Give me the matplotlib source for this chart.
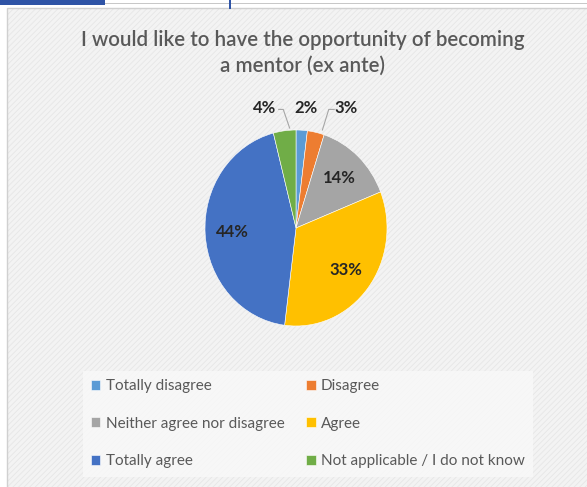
import numpy as np
import matplotlib.pyplot as plt
from matplotlib.patches import Rectangle

# datos
categorias = ['Totally disagree', 'Disagree', 'Neither agree nor disagree',
              'Agree', 'Totally agree', 'Not applicable / I do not know']
valores = [2, 3, 14, 33, 44, 4]
colores = ['#5B9BD5', '#ED7D31', '#A5A5A5', '#FFC000', '#4472C4', '#70AD47']
titulo = 'I would like to have the opportunity of becoming\na mentor (ex ante)'

fuente = 'Lato'
W, H = 587, 487
fig = plt.figure(figsize=(W / 100, H / 100), dpi=100)
fig.patch.set_facecolor('white')

# fondo rayado del grafico
plt.rcParams['hatch.linewidth'] = 0.6
fondo = Rectangle((7 / W, 0), 1, 1 - 8 / H, transform=fig.transFigure,
                  facecolor='#f3f3f3', edgecolor='#e6e6e6', hatch='//////',
                  linewidth=0, zorder=-10)
fig.patches.append(fondo)
borde = Rectangle((7 / W, -0.01), 1, 1 - 8 / H + 0.01, transform=fig.transFigure,
                  facecolor='none', edgecolor='#d0d0d0', linewidth=1, zorder=-9)
fig.patches.append(borde)
# barra superior
fig.patches.append(Rectangle((0, 1 - 5 / H), 105 / W, 5 / H, transform=fig.transFigure,
                             facecolor='#2F54A6', edgecolor='none'))
fig.patches.append(Rectangle((105 / W, 1 - 4 / H), 1, 1.5 / H, transform=fig.transFigure,
                             facecolor='#c8c8c8', edgecolor='none'))
fig.patches.append(Rectangle((229 / W, 1 - 9 / H), 1.5 / W, 9 / H, transform=fig.transFigure,
                             facecolor='#2F54A6', edgecolor='none'))

fig.text(303 / W, 1 - 53 / H, titulo, ha='center', va='center', fontsize=14.8,
         family=fuente, fontweight='semibold', color='#595959',
         linespacing=1.35)

# pastel eliptico
ax = fig.add_axes([205 / W, (H - 326) / H, 182 / W, 196 / H])
wedges, _ = ax.pie(valores, colors=colores, startangle=90, counterclock=False,
                   wedgeprops=dict(edgecolor='white', linewidth=0.4))
ax.set_aspect('auto')
ax.set_xlim(-1, 1)
ax.set_ylim(-1, 1)

# etiquetas
for w, v in zip(wedges, valores):
    ang = np.deg2rad((w.theta1 + w.theta2) / 2)
    x, y = np.cos(ang), np.sin(ang)
    if v >= 10:
        r = 0.7
        ax.text(r * x, r * y, f'{v}%', ha='center', va='center', fontsize=12,
                family=fuente, fontweight='bold', color='#262626')

pct_pequenos = [valores[5], valores[0], valores[1]]
pos_x = [-0.34, 0.11, 0.55]
for v, px in zip(pct_pequenos, pos_x):
    ax.text(px, 1.22, f'{v}%', ha='center', va='center', fontsize=12,
            family=fuente, fontweight='bold', color='#262626',
            clip_on=False)
ax.plot([-0.19, -0.14, -0.07], [1.21, 1.21, 1.02], color='#a6a6a6', lw=0.8, clip_on=False)
ax.plot([0.42, 0.36, 0.29], [1.21, 1.21, 1.0], color='#a6a6a6', lw=0.8, clip_on=False)

# leyenda (orden por filas)
orden = [0, 2, 4, 1, 3, 5]
leg = fig.legend([wedges[i] for i in orden], [categorias[i] for i in orden],
                 loc='upper left', bbox_to_anchor=(75 / W, 1 - 363 / H),
                 ncol=2, frameon=True, fancybox=False,
                 handlelength=0.6, handleheight=0.6, handletextpad=0.35,
                 labelspacing=1.55, borderpad=0.55, columnspacing=1.45,
                 prop=dict(family=fuente, size=11))
leg.get_frame().set_facecolor('#f9f9f9')
leg.get_frame().set_edgecolor('none')
for t in leg.get_texts():
    t.set_color('#595959')

fig.savefig('out.png', dpi=100)
